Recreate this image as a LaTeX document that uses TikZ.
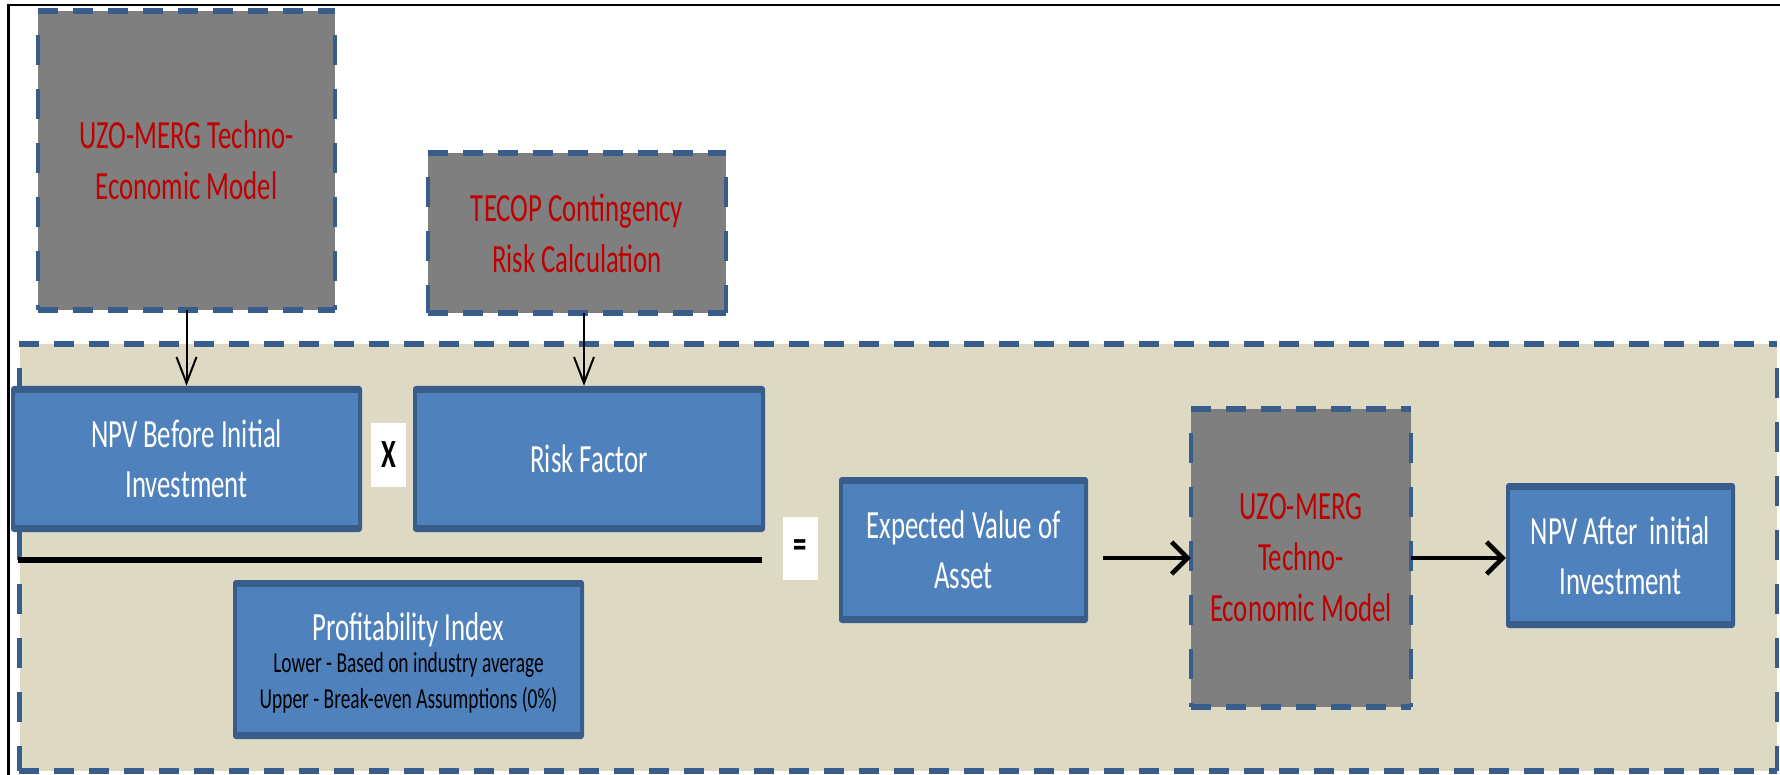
\documentclass[tikz,border=0pt]{standalone}
\usepackage{fontspec}
\setmainfont{Carlito}[FakeStretch=0.67]
\usetikzlibrary{arrows.meta}

\definecolor{stagetan}{HTML}{DDD9C3}
\definecolor{dashblue}{HTML}{385D8A}
\definecolor{boxblue}{HTML}{4F81BD}
\definecolor{bandblue}{HTML}{385D8A}
\definecolor{modelgray}{HTML}{7F7F7F}
\definecolor{modelred}{HTML}{C00000}

% dashed blue outline: thick short dashes across, thinner long dashes down
\newcommand\dashframe[1]{%
  \draw[hdash] (#1.north west) -- (#1.north east);
  \draw[hdash] (#1.south west) -- (#1.south east);
  \draw[vdash] (#1.north west) -- (#1.south west);
  \draw[vdash] (#1.north east) -- (#1.south east);
}

\tikzset{
  hdash/.style={draw=dashblue, line width=6pt, dash pattern=on 20pt off 15pt},
  vdash/.style={draw=dashblue, line width=4.5pt, dash pattern=on 30pt off 24pt, dash phase=30pt},
  graybox/.style={fill=modelgray, inner sep=0pt, text=modelred, align=center,
    font=\fontsize{40}{51}\selectfont},
  bluebox/.style={fill=bandblue, rounded corners=3pt, inner sep=0pt, text=white,
    align=center, font=\fontsize{40}{50}\selectfont,
    path picture={\fill[boxblue, sharp corners]
      ([shift={(4pt,-7pt)}]path picture bounding box.north west) rectangle
      ([shift={(-4pt,7pt)}]path picture bounding box.south east);}},
  opbox/.style={fill=white, inner sep=0pt, text=black,
    font=\fontsize{40}{40}\selectfont\bfseries},
  varrow/.style={draw=black, line width=2pt, -{Straight Barb[length=26pt,width=20pt]}},
  harrow/.style={draw=black, line width=4.5pt, -{Straight Barb[length=16pt,width=32pt]}},
}

\begin{document}
\begin{tikzpicture}[x=1pt, y=-1pt]
\useasboundingbox (0,0) rectangle (1780,775);
\clip (0,0) rectangle (1780,775);
\fill[white] (0,0) rectangle (1780,775);

% outer frame
\draw[line width=3pt] (8,800) -- (8,5);
\draw[line width=2pt] (6.5,5) -- (1800,5);

% model inputs above the stage
\node[graybox, minimum width=297pt, minimum height=298.5pt] (uzo) at (186.5,160.75)
  {UZO-MERG Techno-\\Economic Model};
\dashframe{uzo}
\node[graybox, minimum width=298pt, minimum height=160pt] (tecop) at (577,233)
  {TECOP Contingency\\Risk Calculation};
\dashframe{tecop}

% valuation stage
\node[fill=stagetan, inner sep=0pt, minimum width=1757.5pt, minimum height=427pt]
  (stage) at (898.25,557.5) {};
\dashframe{stage}

% fraction bar
\draw[line width=6pt] (18,560) -- (762,560);

% blue calculation boxes
\node[bluebox, minimum width=351pt, minimum height=146pt] (npvb) at (186.5,459)
  {NPV Before Initial\\Investment};
\node[bluebox, minimum width=352pt, minimum height=146pt] (risk) at (589,459)
  {Risk Factor};
\node[bluebox, minimum width=249pt, minimum height=146pt] (ev) at (963.5,550)
  {Expected Value of\\Asset};
\node[bluebox, minimum width=229pt, minimum height=145pt] (npva) at (1620.5,555.5)
  {NPV After\ \ initial\\Investment};
\node[bluebox, minimum width=351pt, minimum height=159pt, font=\fontsize{29}{36}\selectfont]
  (profit) at (408.5,659.5)
  {\begin{tabular}{@{}c@{}}
    \rule{0pt}{40pt}{\fontsize{40}{40}\selectfont\color{white}Profitability Index}\\[-4pt]
    \color{black}Lower - Based on industry average\\
    \color{black}Upper - Break-even Assumptions (0\%)
  \end{tabular}};

% operators
\node[opbox, minimum width=35pt, minimum height=64pt] (times) at (388.5,455) {X};
\node[opbox, minimum width=35pt, minimum height=63pt] (equals) at (800.5,548.5) {=};

% model applied to the expected value
\node[graybox, minimum width=220pt, minimum height=298pt] (model) at (1301,558)
  {UZO-MERG\\Techno-\\Economic Model};
\dashframe{model}

% connectors
\draw[varrow] (uzo.south) -- (npvb.north);
\draw[varrow] ([xshift=7pt]tecop.south) -- ([xshift=-5pt]risk.north);
\coordinate (evout) at ([xshift=15pt]ev.east);
\draw[harrow] (evout |- model.west) -- (model.west);
\draw[harrow] (model.east) -- (model.east -| npva.west);
\end{tikzpicture}
\end{document}
